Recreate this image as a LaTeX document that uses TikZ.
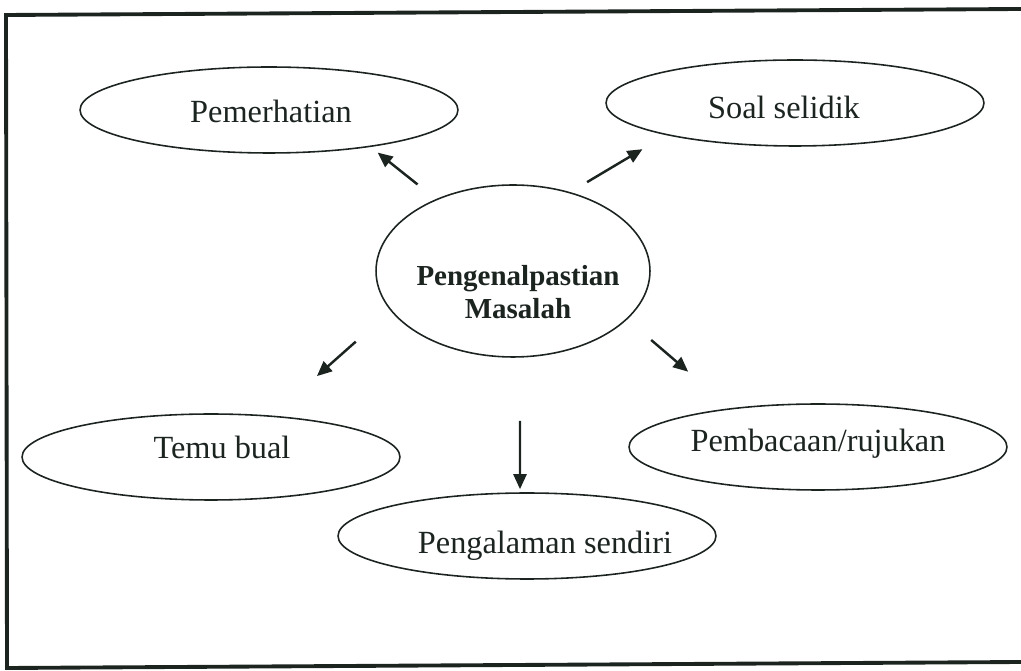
\documentclass[tikz,border=0pt]{standalone}
\usepackage{fontspec}
\setmainfont{Liberation Serif}
\usetikzlibrary{arrows.meta,shapes.geometric}
\definecolor{ink}{RGB}{28,36,32}
\begin{document}
\begin{tikzpicture}[x=0.02cm,y=-0.02cm,
  oval/.style={ellipse, draw=ink, line width=0.9pt, minimum width=7.56cm, minimum height=1.72cm, inner sep=0pt},
  ovaltext/.style={text=ink, font=\fontsize{18.4}{22}\selectfont},
  core/.style={ellipse, draw=ink, line width=0.9pt, minimum width=5.48cm, minimum height=3.44cm, inner sep=0pt},
  corelabel/.style={text=ink, align=center, font=\bfseries\fontsize{16.5}{19}\selectfont},
  arr/.style={draw=ink, line width=1.4pt, -{Triangle[length=0.3cm,width=0.26cm]}}]
\useasboundingbox (0,0) rectangle (1021,671);
\draw[ink, line width=2.2pt] (1021,9) -- (6,15) -- (7,668) -- (1021,662);
\node[core, label={[corelabel, xshift=0.1cm, yshift=-0.42cm]center:Pengenalpastian\\Masalah}] (ctr) at (513,271){};
\node[oval, label={[ovaltext, xshift=0.04cm, yshift=-0.02cm]center:Pemerhatian}] (pem) at (269,110){};
\node[oval, label={[ovaltext, xshift=-0.22cm, yshift=-0.08cm]center:Soal selidik}] (soal) at (795,103){};
\node[oval, label={[ovaltext, xshift=0.22cm, yshift=0.2cm]center:Temu bual}] (temu) at (211,457){};
\node[oval, label={[ovaltext, yshift=0.06cm]center:Pembacaan/rujukan}] (baca) at (818,447){};
\node[oval, label={[ovaltext, xshift=0.36cm, yshift=-0.2cm]center:Pengalaman sendiri}] (alami) at (527,536){};
\draw[arr, shorten <=0.47cm, shorten >=0.18cm](ctr.137) -- (pem.-20);
\draw[arr, shorten <=0.39cm, shorten >=0.55cm](ctr.54) -- (soal.194);
\draw[arr, shorten <=0.93cm, shorten >=1.19cm](ctr.198) -- (temu.34);
\draw[arr, shorten <=1.26cm, shorten >=0.06cm]([xshift=0.14cm]ctr.south) -- ([xshift=-0.14cm]alami.north);
\draw[arr, shorten <=0.63cm, shorten >=1.12cm](ctr.-23) -- (baca.156);
\end{tikzpicture}
\end{document}
